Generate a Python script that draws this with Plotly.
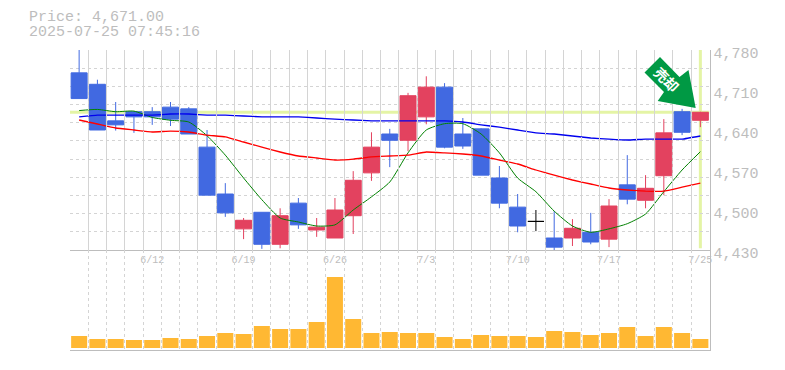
import plotly.graph_objects as go

W, H = 785, 370
dates = ["6/6","6/9","6/10","6/11","6/12","6/13","6/16","6/17","6/18","6/19","6/20","6/23","6/24","6/25","6/26","6/27","6/30",
         "7/1","7/2","7/3","7/4","7/7","7/8","7/9","7/10","7/11","7/14","7/15","7/16","7/17","7/18","7/22","7/23","7/24","7/25"]
opens = [4740,4720,4656,4672,4672,4680,4677,4610,4528,4467,4496,4440,4512,4465,4451,4490,4565,4633,4622,4663,4715,4633,4642,4556,4505,4480,4451,4451,4461,4449,4544,4517,4560,4672,4657]
highs = [4785,4728,4689,4672,4680,4689,4680,4640,4547,4486,4496,4503,4521,4486,4521,4568,4636,4642,4705,4734,4722,4661,4643,4577,4528,4500,4498,4484,4495,4519,4596,4561,4659,4677,4672]
lows = [4695,4640,4639,4635,4649,4647,4633,4526,4488,4449,4432,4433,4467,4453,4451,4458,4551,4575,4603,4650,4608,4607,4561,4503,4461,4463,4428,4437,4440,4435,4510,4503,4526,4631,4645]
closes = [4695,4640,4649,4663,4663,4659,4633,4526,4495,4482,4440,4490,4474,4470,4500,4552,4610,4622,4700,4715,4610,4612,4561,4512,4472,4480,4435,4468,4444,4507,4519,4538,4635,4636,4671]
ma_short = [4674,4676,4672,4673,4662,4657,4654,4630,4596,4556,4518,4486,4479,4472,4474,4500,4523,4549,4600,4640,4651,4651,4633,4600,4556,4532,4498,4472,4461,4467,4476,4493,4532,4570,4602]
ma_mid = [4663,4666,4666,4666,4666,4668,4668,4666,4666,4664.5,4663,4663,4663,4661,4659,4657.5,4656,4656,4656,4656,4656,4654,4649,4645,4640,4635,4633,4629.5,4626,4624,4622.5,4624,4624,4624,4629.5]
ma_long = [4657.5,4650.5,4643.5,4640,4636.5,4638,4636.5,4631,4628,4619,4610,4601.5,4594.5,4591,4587.5,4589,4593,4594.5,4596,4601.5,4600,4598,4594.5,4587.5,4580.5,4570,4561,4552.5,4545.5,4538.5,4535,4533,4533,4540,4547]
volumes = [12,9,9,8,8,10,9,12,15,14,22,19,19,26,71,29,15,16,15,15,11,9,13,12,12,11,17,16,13,15,21,12,21,15,9]
date_ticks = ["6/12","6/19","6/26","7/3","7/10","7/17","7/25"]
price_ticks = [4430,4500,4570,4640,4710,4780]
last_price = 4671
title_lines = ["Price: 4,671.00","2025-07-25 07:45:16"]

RED, BLUE = "#e3425f", "#4169e1"
GRAY, GRID = "#bdbdbd", "#d4d4d4"
FONT = "Liberation Mono"
L, R = 70, 709.5
fx = lambda p: p / W
fy = lambda p: 1 - p / H
n = len(dates)
xs = list(range(n))

def subset(f):
    return [i for i in xs if f(opens[i], closes[i])]

fig = go.Figure()
for sel, col in [(subset(lambda o, c: c > o), RED), (subset(lambda o, c: c < o), BLUE), (subset(lambda o, c: c == o), "#000000")]:
    fig.add_trace(go.Candlestick(
        x=sel, open=[opens[i] for i in sel], high=[highs[i] for i in sel],
        low=[lows[i] for i in sel], close=[closes[i] for i in sel],
        increasing=dict(line=dict(color=col, width=1), fillcolor=col),
        decreasing=dict(line=dict(color=col, width=1), fillcolor=col),
        whiskerwidth=0, showlegend=False, xaxis="x", yaxis="y"))
for vals, col, lw, sm in [(ma_short, "#008000", 1, 0.6), (ma_mid, "#0000ee", 1.3, 0.3), (ma_long, "#ff0000", 1.3, 0.3)]:
    fig.add_trace(go.Scatter(x=xs, y=vals, mode="lines", line=dict(color=col, width=lw, shape="spline", smoothing=sm),
                             showlegend=False, xaxis="x", yaxis="y"))
fig.add_trace(go.Bar(x=xs, y=volumes, marker=dict(color="#ffb833", line=dict(width=0)),
                     showlegend=False, xaxis="x2", yaxis="y2"))

HL = "#e4f4a5"
shapes = [
    dict(type="line", xref="x", yref="y", x0=-0.5, x1=n - 0.5, y0=last_price, y1=last_price,
         line=dict(color=HL, width=3), layer="below"),
    dict(type="line", xref="x", yref="y", x0=n - 1, x1=n - 1, y0=4433, y1=4780,
         line=dict(color=HL, width=3), layer="below"),
    dict(type="path", xref="paper", yref="paper", layer="above", line=dict(width=0), fillcolor="#009944",
         path="M {} {} L {} {} L {} {} L {} {} L {} {} L {} {} L {} {} Z".format(*[
             v for px, py in [(660, 57), (679.5, 77), (688.5, 70), (695.7, 108), (657.7, 101), (664, 92), (644.5, 72.5)]
             for v in (fx(px), fy(py))])),
]
title_text = "<br>".join(f"<span style='font-size:15px'>{t}</span>" for t in title_lines)
annotations = [
    dict(text=title_text, xref="paper", yref="paper", x=fx(28), y=fy(25.5), xanchor="left", yanchor="middle",
         align="left", borderpad=0, showarrow=False, font=dict(family=FONT, size=11.5, color=GRAY)),
    dict(text="<b>売却</b>", xref="paper", yref="paper", x=fx(666.5), y=fy(79), xanchor="center", yanchor="middle",
         textangle=45, showarrow=False, font=dict(family="Noto Sans CJK JP", size=14, color="#ffffff")),
]

common_x = dict(range=[-0.5, n - 0.5], domain=[fx(L), fx(R)], showgrid=False, zeroline=False,
                minor=dict(showgrid=True, tick0=-0.5, dtick=1, gridcolor=GRID, griddash="3px,3px", gridwidth=1, ticklen=0),
                showline=True, linecolor=GRAY, linewidth=1, ticks="", rangeslider=dict(visible=False))
fig.update_layout(
    width=W, height=H, margin=dict(l=0, r=0, t=0, b=0, pad=0), autosize=False,
    paper_bgcolor="#ffffff", plot_bgcolor="rgba(0,0,0,0)", showlegend=False, hovermode=False,
    bargap=0.124, boxgap=0.124, boxgroupgap=0, boxmode="overlay", shapes=shapes, annotations=annotations,
    xaxis=dict(common_x, anchor="y", tickmode="array", tickvals=[dates.index(d) for d in date_ticks], ticktext=date_ticks,
               tickfont=dict(family=FONT, size=10, color=GRAY), ticklen=0, automargin=False),
    xaxis2=dict(common_x, anchor="y2", matches="x", showticklabels=False, automargin=False),
    yaxis=dict(range=[4430, 4780], domain=[fy(250), fy(50)], anchor="x", side="right", showgrid=True, gridcolor=GRID,
               griddash="3px,3px", tick0=4430, dtick=350 / 11, showticklabels=False, zeroline=False,
               showline=True, linecolor=GRAY, linewidth=1, ticks="", automargin=False),
    yaxis2=dict(range=[-2, 98], domain=[fy(350), fy(250)], anchor="x2", side="right", showgrid=False, showticklabels=False,
                zeroline=False, showline=True, linecolor=GRAY, linewidth=1, ticks="", automargin=False),
    yaxis3=dict(range=[4430, 4780], domain=[fy(253), fy(53)], anchor="free", position=fx(R + 3), side="right",
                tickmode="array", tickvals=price_ticks, ticktext=[f"{v:,}" for v in price_ticks], showgrid=False, zeroline=False,
                tickfont=dict(family=FONT, size=15, color=GRAY), ticks="", ticklen=0, showline=False, automargin=False),
)
fig.add_trace(go.Scatter(x=[None], y=[None], xaxis="x", yaxis="y3", showlegend=False))
fig.write_html("out.html", config=dict(displayModeBar=False), post_script="document.body.style.margin='0';")
